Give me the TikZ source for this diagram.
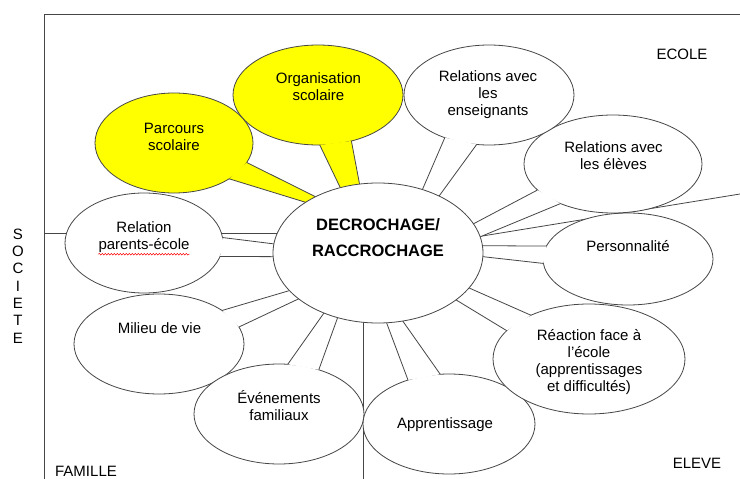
\documentclass[tikz,border=0pt]{standalone}
\usepackage{fontspec}
\setmainfont{Liberation Sans}
\usetikzlibrary{shapes.geometric,calc,decorations.pathmorphing}
\definecolor{linec}{RGB}{70,70,70}
\definecolor{yel}{RGB}{255,255,0}
\pgfdeclarelayer{back}
\pgfdeclarelayer{front}
\pgfsetlayers{back,main,front}
% #1 name, #2 fill, #3 position, #4 width, #5 height, #6/#7 tail base angles, #8/#9 angles on the centre
\newcommand\mybubble[9]{%
  \node[blob, fill=#2, minimum width=#4pt, minimum height=#5pt] (#1) at #3 {};
  \fill[#2] (#1.#6) -- ($(#1.#6)!1.25!(ctr.#8)$) -- ($(#1.#7)!1.25!(ctr.#9)$) -- (#1.#7) -- cycle;
  \draw[edge] ($(#1.#6)!1.25!(ctr.#8)$) -- (#1.#6);
  \draw[edge] (#1.#7) -- ($(#1.#7)!1.25!(ctr.#9)$);
}
\begin{document}
\begin{tikzpicture}[x=1pt,y=-1pt,
  blob/.style={ellipse, draw=linec, line width=0.8pt, inner sep=0pt, outer sep=0pt},
  edge/.style={draw=linec, line width=0.8pt},
  axisline/.style={draw=linec, line width=0.8pt},
  txt/.style={font=\fontsize{15pt}{17pt}\selectfont, align=center, inner sep=0pt},
  ctxt/.style={font=\fontsize{16.5pt}{26pt}\selectfont\bfseries, align=center, inner sep=0pt}]
\useasboundingbox (0,0) rectangle (740,479);

% centre
\begin{pgfonlayer}{front}
  \node[blob, fill=white, minimum width=210pt, minimum height=140pt] (ctr) at (378,253) {};
  \node[ctxt] (ctrt) at (378,238) {DECROCHAGE/\\RACCROCHAGE};
\end{pgfonlayer}

% axes
\begin{pgfonlayer}{back}
  \fill[white] (0,0) rectangle (740,479);
  \coordinate (tl) at (44,14);
  \coordinate (tr) at (740,14);
  \coordinate (bl) at (44,479);
  \coordinate (ml) at (44,233);
  \coordinate (rr) at (740,194);
  \coordinate (bm) at (363,479);
  \draw[axisline] (tr) -- (tl) -- (bl);
  \draw[axisline] (ml) -- (ml -| ctr.center);
  \draw[axisline] (ctr.center) -- (rr);
  \draw[axisline] (bm |- ctr.center) -- (bm);
\end{pgfonlayer}

% callouts
\mybubble{rel}{white}{(144,243)}{158}{100}{4}{-10}{175}{182}
\mybubble{mil}{white}{(159,344)}{170}{100}{28}{12}{-157}{-150}
\mybubble{evt}{white}{(279,414)}{170}{100}{80}{48}{-132}{-122}
\mybubble{app}{white}{(449,424)}{172}{100}{133}{100}{-83}{-70}
\mybubble{rea}{white}{(589,359)}{192}{110}{143}{161}{-21}{-31}
\mybubble{per}{white}{(628,259)}{170}{92}{171}{183}{4}{-2}
\mybubble{elv}{white}{(613,164)}{178}{98}{-161}{-143}{17}{9}
\mybubble{ens}{white}{(489,95)}{170}{100}{-136}{-104}{55}{43}
\mybubble{org}{yel}{(318,95)}{170}{100}{-88}{-54}{120}{105}
\mybubble{par}{yel}{(174,143)}{158}{100}{-15}{-33}{138}{145}

% texts
\node[txt] (relt) at (144,237) {Relation\\parents-école};
\draw[red, line width=0.5pt, decorate, decoration={snake, amplitude=0.8pt, segment length=3pt}]
  ($(relt.south west)+(0,1.5)$) -- ($(relt.south east)+(0,1.5)$);
\node[txt] (milt) at (159.5,328.5) {Milieu de vie};
\node[txt] (evtt) at (279,406) {Événements\\familiaux};
\node[txt] (appt) at (445,425) {Apprentissage};
\node[txt] (reat) at (589,362) {Réaction face à\\l’école\\(apprentissages\\et difficultés)};
\node[txt] (pert) at (628,246.5) {Personnalité};
\node[txt] (elvt) at (613.5,156) {Relations avec\\les élèves};
\node[txt] (enst) at (488,95) {Relations avec\\les\\enseignants};
\node[txt] (orgt) at (318.5,87) {Organisation\\scolaire};
\node[txt] (part) at (174,137) {Parcours\\scolaire};

% side labels
\node[txt] (ecole) at (682,54) {ECOLE};
\node[txt] (eleve) at (697,463) {ELEVE};
\node[txt] (famille) at (86,471.5) {FAMILLE};
\node[txt, font=\fontsize{15pt}{17.33pt}\selectfont] (societe) at (18,286) {S\\O\\C\\I\\E\\T\\E};
\end{tikzpicture}
\end{document}
